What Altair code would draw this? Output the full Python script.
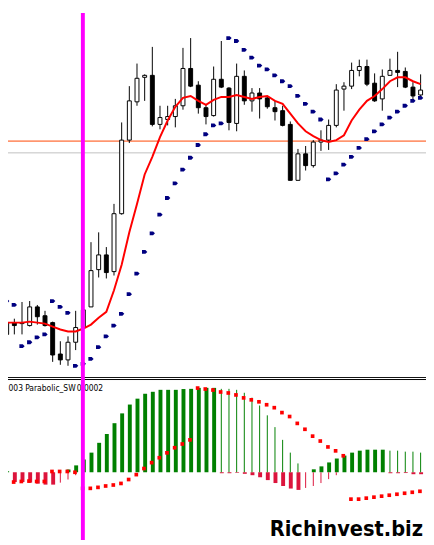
import altair as alt
import pandas as pd

# ---------------- data ----------------
bars = list(range(55))

open_ = [1.3065, 1.3077, 1.3076, 1.3074, 1.3093, 1.3084, 1.3077, 1.3045, 1.3039, 1.3057,
         1.3072, 1.3093, 1.3131, 1.3146, 1.3129, 1.3188, 1.3263, 1.3302, 1.3327, 1.3329,
         1.3279, 1.3284, 1.3287, 1.3298, 1.3336, 1.3319, 1.3296, 1.3288, 1.3325, 1.3316,
         1.3280, 1.3328, 1.3303, 1.3311, 1.3306, 1.3296, 1.3293, 1.3279, 1.3222, 1.3249,
         1.3237, 1.3261, 1.3263, 1.3278, 1.3315, 1.3318, 1.3334, 1.3338, 1.3321, 1.3305,
         1.3329, 1.3334, 1.3333, 1.3317, 1.3309]
high = [1.3078, 1.3081, 1.3098, 1.3099, 1.3095, 1.3089, 1.3078, 1.3058, 1.3063, 1.3089,
        1.3095, 1.3159, 1.3169, 1.3154, 1.3198, 1.3281, 1.3318, 1.3341, 1.3330, 1.3358,
        1.3298, 1.3298, 1.3305, 1.3357, 1.3367, 1.3323, 1.3300, 1.3338, 1.3364, 1.3317,
        1.3341, 1.3334, 1.3316, 1.3316, 1.3308, 1.3303, 1.3298, 1.3282, 1.3254, 1.3257,
        1.3263, 1.3273, 1.3284, 1.3320, 1.3322, 1.3342, 1.3345, 1.3345, 1.3331, 1.3335,
        1.3346, 1.3353, 1.3337, 1.3322, 1.3330]
low = [1.3053, 1.3065, 1.3065, 1.3073, 1.3075, 1.3073, 1.3037, 1.3034, 1.3033, 1.3049,
       1.3070, 1.3093, 1.3123, 1.3122, 1.3125, 1.3187, 1.3260, 1.3298, 1.3303, 1.3277,
       1.3274, 1.3278, 1.3276, 1.3294, 1.3317, 1.3290, 1.3279, 1.3287, 1.3316, 1.3273,
       1.3272, 1.3299, 1.3292, 1.3285, 1.3295, 1.3283, 1.3277, 1.3222, 1.3222, 1.3232,
       1.3235, 1.3252, 1.3253, 1.3276, 1.3293, 1.3315, 1.3328, 1.3318, 1.3302, 1.3293,
       1.3329, 1.3317, 1.3316, 1.3303, 1.3308]
close = [1.3077, 1.3074, 1.3077, 1.3093, 1.3083, 1.3074, 1.3044, 1.3039, 1.3057, 1.3072,
         1.3090, 1.3130, 1.3146, 1.3128, 1.3188, 1.3263, 1.3303, 1.3326, 1.3329, 1.3279,
         1.3286, 1.3287, 1.3298, 1.3336, 1.3318, 1.3296, 1.3287, 1.3325, 1.3317, 1.3281,
         1.3328, 1.3303, 1.3311, 1.3305, 1.3297, 1.3292, 1.3278, 1.3222, 1.3249, 1.3237,
         1.3261, 1.3263, 1.3278, 1.3314, 1.3318, 1.3334, 1.3338, 1.3320, 1.3303, 1.3328,
         1.3334, 1.3332, 1.3317, 1.3308, 1.3314]
ma = [1.3077, 1.3077, 1.3077, 1.3078, 1.3077, 1.3076, 1.3073, 1.3070, 1.3068, 1.3068,
      1.3071, 1.3075, 1.3082, 1.3088, 1.3110, 1.3136, 1.3169, 1.3198, 1.3228, 1.3246,
      1.3266, 1.3283, 1.3297, 1.3306, 1.3308, 1.3303, 1.3299, 1.3304, 1.3307, 1.3307,
      1.3309, 1.3307, 1.3305, 1.3307, 1.3308, 1.3303, 1.3300, 1.3290, 1.3280, 1.3272,
      1.3267, 1.3263, 1.3261, 1.3263, 1.3268, 1.3283, 1.3294, 1.3303, 1.3308, 1.3315,
      1.3323, 1.3327, 1.3327, 1.3323, 1.3320]
psar = [1.3099, 1.3095, 1.3053, 1.3057, 1.3062, 1.3065, 1.3099, 1.3093, 1.3087, 1.3033,
        1.3035, 1.3040, 1.3052, 1.3063, 1.3074, 1.3086, 1.3106, 1.3127, 1.3149, 1.3168,
        1.3187, 1.3204, 1.3219, 1.3233, 1.3245, 1.3258, 1.3269, 1.3278, 1.3280, 1.3367,
        1.3364, 1.3355, 1.3347, 1.3339, 1.3335, 1.3329, 1.3323, 1.3318, 1.3308, 1.3300,
        1.3292, 1.3284, 1.3223, 1.3229, 1.3238, 1.3246, 1.3255, 1.3264, 1.3272, 1.3279,
        1.3286, 1.3292, 1.3298, 1.3303, 1.3306]
level_orange = 1.3262
level_grey = 1.3250
marker_bar = 9.94

hist_up = [0.000005, 0, 0, 0, 0, 0, 0, 0, 0.000014, 0.000035,
           0.000065, 0.0001, 0.00015, 0.000195, 0.00025, 0.0003, 0.000345, 0.000375, 0.0004, 0.00041,
           0.00042, 0.00042, 0.00042, 0.000424, 0.000425, 0.00043, 0.00043, 0.00043, 0.000425, 0.000425,
           0.00042, 0.000405, 0.00038, 0.00034, 0.00029, 0.00023, 0.000165, 0.0001, 0.000045, 0,
           0.000015, 0.00003, 0.00005, 0.00007, 0.000085, 0.0001, 0.00011, 0.000115, 0.000115, 0.000115,
           0.00011, 0.00011, 0.000105, 0.000105, 0.0001]
hist_up_thick = [1, 1, 1, 1, 1, 1, 1, 1, 1, 1,
                 1, 1, 1, 1, 1, 1, 1, 1, 1, 1,
                 1, 1, 1, 1, 1, 1, 1, 1, 0, 0,
                 0, 0, 0, 0, 0, 0, 0, 0, 0, 0,
                 1, 1, 1, 1, 1, 1, 1, 1, 1, 1,
                 0, 0, 0, 0, 0]
hist_dn = [-0.000045, -0.00005, -0.00005, -0.000053, -0.000058, -0.000063, -0.000063, -0.000053, -0.000037, -0.000015,
           -0.000005, 0, 0, 0, 0, 0, 0, 0, 0, 0,
           0, 0, 0, 0, 0, 0, 0, 0, -0.000005, -0.000005,
           -0.000003, -0.000008, -0.000015, -0.000025, -0.00004, -0.000055, -0.00007, -0.000083, -0.00009, -0.00008,
           -0.00007, -0.000055, -0.000035, -0.000015, 0, 0, 0, 0, 0, 0,
           -0.000005, -0.000005, -0.000004, -0.00001, -0.00001]
hist_dn_thick = [0, 1, 1, 1, 1, 1, 1, 0, 0, 0,
                 0, 1, 1, 1, 1, 1, 1, 1, 1, 1,
                 1, 1, 1, 1, 1, 1, 1, 1, 1, 1,
                 1, 1, 1, 1, 1, 1, 1, 1, 1, 0,
                 0, 0, 0, 0, 1, 1, 1, 1, 1, 1,
                 1, 1, 1, 1, 1]
signal = [-0.00005, -0.00005, -0.000047, -0.000045, -0.000047, -0.000047, 0.000004, 0.000004, 0.000004, 0,
          -0.000082, -0.000082, -0.000077, -0.00007, -0.000065, -0.000057, -0.000037, -0.000012, 0.000019, 0.000049,
          0.000074, 0.000099, 0.000125, 0.000144, 0.000165, 0.000429, 0.000424, 0.000419, 0.000409, 0.000404,
          0.000394, 0.000379, 0.000369, 0.000359, 0.000344, 0.000329, 0.000304, 0.000284, 0.000249, 0.000219,
          0.000184, 0.000159, 0.000129, 0.000109, 0.000084, -0.000137, -0.000137, -0.000132, -0.000127, -0.000122,
          -0.000117, -0.000112, -0.000107, -0.000102, -0.000097]

label_texts = ["003", "Parabolic_SW", "0.0002"]
watermark = "Richinvest.biz"

# ---------------- layout / style ----------------
# the page has an 8px margin: the chart shows the reference from (8, 8) on, at 1:1
W = 426
H1 = 372
H2 = 165
OFF = 8

xs = alt.Scale(domain=[(OFF - 1.5) / 8, (OFF + W - 1.5) / 8], nice=False, zero=False)
ys = alt.Scale(domain=[1.3400 - (OFF + H1 - 0.5) / 10000, 1.3400 - (OFF - 0.5) / 10000], nice=False, zero=False)
ys2 = alt.Scale(domain=[0.00048 - H2 * 0.000005, 0.00048], nice=False, zero=False)
X = alt.X("k:Q", scale=xs, axis=None)

df = pd.DataFrame(dict(k=bars, open=open_, high=high, low=low, close=close, ma=ma, psar=psar))
one = pd.DataFrame({"k": [marker_bar]})
lv = pd.DataFrame({"level": [level_orange, level_grey], "c": ["#FF4500", "#C0C0C0"]})

rows = []
for i in bars:
    if hist_up[i] != 0:
        rows.append(dict(k=i, v=hist_up[i], zero=0.0, c="#008000", thick=hist_up_thick[i]))
    if hist_dn[i] != 0:
        rows.append(dict(k=i, v=hist_dn[i], zero=0.0, c="#DC143C", thick=hist_dn_thick[i]))
hist = pd.DataFrame(rows)
sig = pd.DataFrame(dict(k=bars, s=signal))

ARROW = "M-1,-0.72 L0.3,-0.72 L1,0 L0.3,0.72 L-1,0.72 Z"

# ---------------- main price panel ----------------
levels = alt.Chart(lv).mark_rule(strokeWidth=1, clip=True).encode(
    y=alt.Y("level:Q", scale=ys, axis=None), color=alt.Color("c:N", scale=None))
wicks = alt.Chart(df).mark_rule(color="black", strokeWidth=1, clip=True).encode(
    x=X, y=alt.Y("low:Q", scale=ys, axis=None), y2="high:Q")
bodies = alt.Chart(df).mark_bar(size=4, stroke="black", strokeWidth=1, clip=True).encode(
    x=X, y=alt.Y("open:Q", scale=ys, axis=None), y2="close:Q",
    fill=alt.condition("datum.close >= datum.open", alt.value("white"), alt.value("black")))
ma_line = alt.Chart(df).mark_line(color="#FF0000", strokeWidth=2, clip=True).encode(
    x=X, y=alt.Y("ma:Q", scale=ys, axis=None))
sar = alt.Chart(df).mark_point(shape=ARROW, filled=True, color="#000080", size=29, opacity=1, clip=True).encode(
    x=X, y=alt.Y("psar:Q", scale=ys, axis=None))
border1 = alt.Chart(one).mark_rule(color="black", strokeWidth=1, clip=True).encode(
    x=alt.value(0), x2=alt.value(W), y=alt.value(379.5 - OFF))
vline1 = alt.Chart(one).mark_rule(color="#FF00FF", strokeWidth=4, clip=True).encode(x=X)

main = alt.layer(levels, wicks, bodies, ma_line, sar, border1, vline1).properties(width=W, height=H1)

# ---------------- indicator panel ----------------
thick = alt.Chart(hist).transform_filter("datum.thick == 1").mark_bar(size=4, xOffset=0.5, clip=True).encode(
    x=X, y=alt.Y("v:Q", scale=ys2, axis=None), y2="zero:Q", color=alt.Color("c:N", scale=None))
thin = alt.Chart(hist).transform_filter("datum.thick == 0").mark_rule(strokeWidth=1, clip=True).encode(
    x=X, y=alt.Y("v:Q", scale=ys2, axis=None), y2="zero:Q", color=alt.Color("c:N", scale=None))
dots = alt.Chart(sig).mark_square(size=14, color="#FF0000", opacity=1, xOffset=-0.7, clip=True).encode(
    x=X, y=alt.Y("s:Q", scale=ys2, axis=None))
border2 = alt.Chart(one).mark_rule(color="black", strokeWidth=1, clip=True).encode(
    x=alt.value(0), x2=alt.value(W), y=alt.value(1.5))

label_x = [0.5, 17.5, 70]
labels = [
    alt.Chart(one).mark_text(text=t, align="left", baseline="alphabetic", font="DejaVu Sans Condensed",
                             fontSize=8.6, color="black", clip=True).encode(x=alt.value(px), y=alt.value(13.3))
    for t, px in zip(label_texts, label_x)
]
vline2 = alt.Chart(one).mark_rule(color="#FF00FF", strokeWidth=4, clip=True).encode(x=X)
wm = alt.Chart(one).mark_text(
    text=watermark, align="right", baseline="alphabetic",
    font="'DejaVu Sans Condensed', 'DejaVu Sans', sans-serif",
    fontWeight="bold", fontSize=22, color="black", clip=True).encode(
    x=alt.value(431 - OFF), y=alt.value(541 - 380))

ind = alt.layer(thick, thin, dots, border2, *labels, vline2, wm).properties(width=W, height=H2)

chart = alt.vconcat(main, ind, spacing=0, padding=0, background="white").configure_view(strokeWidth=0)

chart.save("out.html", embed_options={"renderer": "svg", "actions": False})
